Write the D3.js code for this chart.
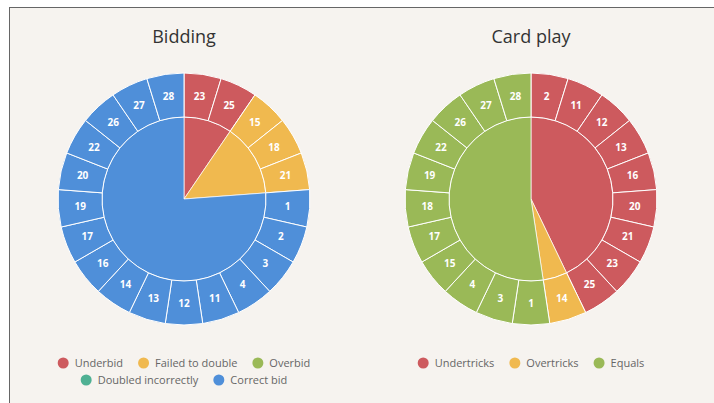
<!DOCTYPE html>
<html>
<head>
<meta charset="utf-8">
<script src="https://cdn.jsdelivr.net/npm/d3@7"></script>
<style>
  html, body { margin: 0; padding: 0; background: #fff; }
  svg { display: block; font-family: "Open Sans", sans-serif; }
</style>
</head>
<body>
<svg id="chart" width="714" height="403"></svg>
<script>
// bidding categories and boards (outer ring, clockwise from top)
var biddingCategories = ["Underbid", "Failed to double", "Overbid", "Doubled incorrectly", "Correct bid"];
var biddingColors = ["#cd5a5e", "#f0b94f", "#9ab957", "#4fb093", "#4f8fd9"];
var biddingBoards = [
  [23, 25],
  [15, 18, 21],
  [],
  [],
  [1, 2, 3, 4, 11, 12, 13, 14, 16, 17, 19, 20, 22, 26, 27, 28]
];

// card play categories and boards
var playCategories = ["Undertricks", "Overtricks", "Equals"];
var playColors = ["#cd5a5e", "#f0b94f", "#9ab957"];
var playBoards = [
  [2, 11, 12, 13, 16, 20, 21, 23, 25],
  [14],
  [1, 3, 4, 15, 17, 18, 19, 22, 26, 27, 28]
];

var svg = d3.select("#chart");

// panel frame
svg.append("rect")
  .attr("x", 9.5).attr("y", 7.5)
  .attr("width", 760).attr("height", 420)
  .attr("fill", "#f6f3ef")
  .attr("stroke", "#666")
  .attr("stroke-width", 1);

function drawChart(cx, title, categories, colors, boards, legendRows) {
  const rInner = 82;
  const rOuter = 126;
  const cy = 199;

  var g = svg.append("g").attr("transform", `translate(${cx},${cy})`);

  var inner = [];
  var outer = [];
  for (var i = 0; i < categories.length; i++) {
    inner.push({ name: categories[i], color: colors[i], value: boards[i].length });
    for (var j = 0; j < boards[i].length; j++) {
      outer.push({ board: boards[i][j], color: colors[i], value: 1 });
    }
  }

  var pie = d3.pie().sort(null).value(function (d) { return d.value; });
  var innerArc = d3.arc().innerRadius(0).outerRadius(rInner);
  var outerArc = d3.arc().innerRadius(rInner).outerRadius(rOuter);

  g.selectAll(".inner")
    .data(pie(inner).filter(function (d) { return d.data.value > 0; }))
    .enter().append("path")
    .attr("class", "inner")
    .attr("d", innerArc)
    .attr("fill", function (d) { return d.data.color; })
    .attr("stroke", "#fff")
    .attr("stroke-opacity", 0.7)
    .attr("stroke-width", 1);

  var outerData = pie(outer);

  g.selectAll(".outer")
    .data(outerData)
    .enter().append("path")
    .attr("class", "outer")
    .attr("d", outerArc)
    .attr("fill", function (d) { return d.data.color; })
    .attr("stroke", "#fff")
    .attr("stroke-width", 1);

  g.selectAll(".lbl")
    .data(outerData)
    .enter().append("text")
    .attr("class", "lbl")
    .attr("transform", function (d) { return "translate(" + outerArc.centroid(d) + ")"; })
    .attr("text-anchor", "middle")
    .attr("dy", "0.35em")
    .attr("fill", "#fff")
    .attr("font-size", 10)
    .attr("font-weight", "bold")
    .text(function (d) { return d.data.board; });

  svg.append("text")
    .attr("x", cx).attr("y", 43)
    .attr("text-anchor", "middle")
    .attr("font-size", 18)
    .attr("fill", "#333")
    .text(title);

  // legend, centered rows
  var idx = 0;
  legendRows.forEach(function (count, r) {
    var row = svg.append("g");
    var x = 0;
    for (var k = 0; k < count; k++, idx++) {
      var item = row.append("g").attr("transform", `translate(${x},0)`);
      item.append("circle").attr("cx", 5.5).attr("cy", 0).attr("r", 5.5).attr("fill", colors[idx]);
      var t = item.append("text")
        .attr("x", 17).attr("dy", "0.35em")
        .attr("font-size", 11).attr("fill", "#666")
        .text(categories[idx]);
      x += 17 + t.node().getComputedTextLength() + 15;
    }
    var w = x - 15;
    row.attr("transform", `translate(${cx - w / 2},${363 + r * 17})`);
  });
}

drawChart(184, "Bidding", biddingCategories, biddingColors, biddingBoards, [3, 2]);
drawChart(531, "Card play", playCategories, playColors, playBoards, [3]);
</script>
</body>
</html>
